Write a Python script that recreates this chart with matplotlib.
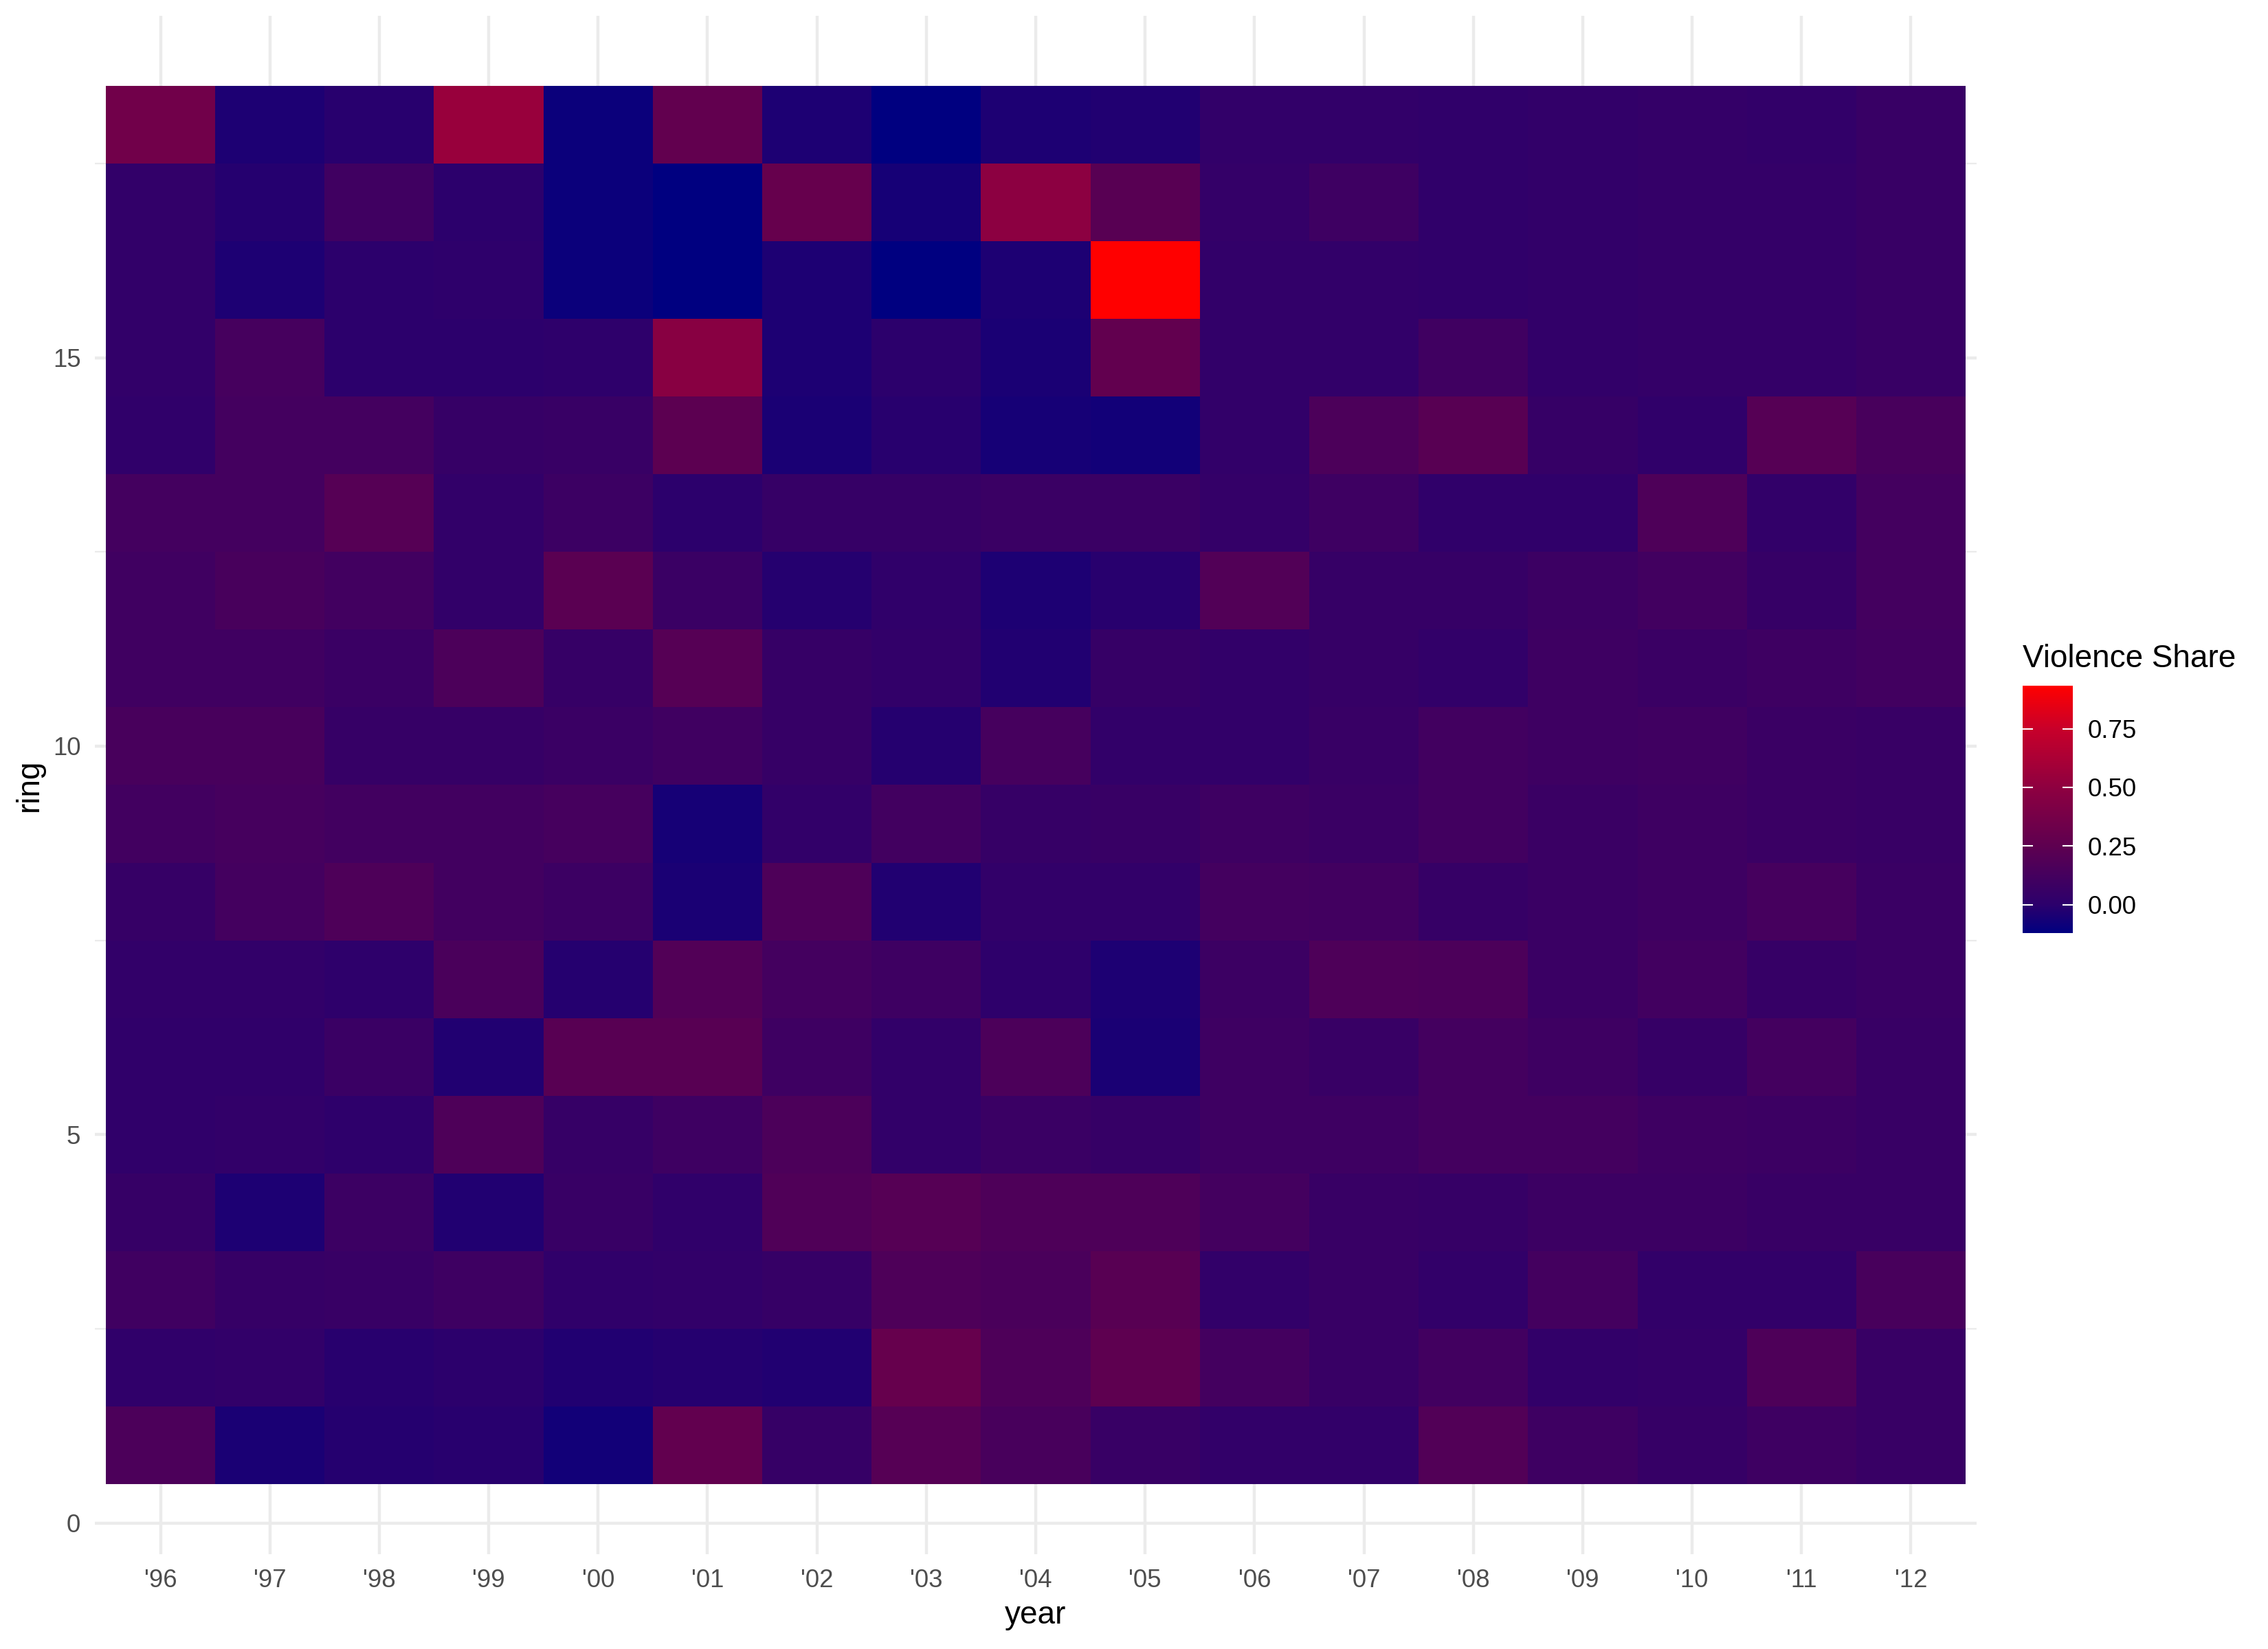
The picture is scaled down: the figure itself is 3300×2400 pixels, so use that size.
import numpy as np
import matplotlib
matplotlib.use("Agg")
import matplotlib.pyplot as plt
from matplotlib.colors import LinearSegmentedColormap, Normalize
from matplotlib.ticker import FixedLocator

plt.rcParams['font.family'] = ['Liberation Sans', 'DejaVu Sans']

# data
years = ["'96", "'97", "'98", "'99", "'00", "'01", "'02", "'03", "'04",
         "'05", "'06", "'07", "'08", "'09", "'10", "'11", "'12"]
rings = list(range(1, 19))

# violence share, one row per ring, listed from ring 18 down to ring 1
share_top_down = [
    [0.35, -0.04, -0.01, 0.54, -0.09, 0.27, -0.04, -0.121, -0.04, -0.03, 0.03, 0.03, 0.02, 0.03, 0.04, 0.03, 0.06],
    [0.03, -0.02, 0.10, 0.00, -0.09, -0.12, 0.29, -0.06, 0.49, 0.22, 0.04, 0.09, 0.02, 0.03, 0.04, 0.04, 0.06],
    [0.03, -0.04, 0.00, 0.01, -0.09, -0.12, -0.04, -0.12, -0.04, 0.933, 0.03, 0.03, 0.02, 0.03, 0.04, 0.04, 0.06],
    [0.03, 0.13, 0.00, 0.00, 0.01, 0.47, -0.04, 0.00, -0.05, 0.27, 0.03, 0.03, 0.10, 0.03, 0.04, 0.04, 0.06],
    [0.02, 0.12, 0.12, 0.05, 0.06, 0.24, -0.05, -0.01, -0.06, -0.07, 0.03, 0.16, 0.22, 0.05, 0.02, 0.21, 0.14],
    [0.12, 0.12, 0.21, 0.03, 0.08, 0.00, 0.05, 0.05, 0.07, 0.07, 0.04, 0.09, 0.02, 0.02, 0.17, 0.03, 0.12],
    [0.10, 0.14, 0.11, 0.03, 0.23, 0.07, -0.02, 0.02, -0.04, -0.01, 0.19, 0.05, 0.05, 0.08, 0.11, 0.05, 0.12],
    [0.10, 0.10, 0.07, 0.16, 0.05, 0.21, 0.05, 0.03, -0.03, 0.05, 0.03, 0.05, 0.03, 0.09, 0.07, 0.09, 0.11],
    [0.14, 0.14, 0.05, 0.05, 0.07, 0.10, 0.05, -0.02, 0.13, 0.03, 0.03, 0.06, 0.11, 0.09, 0.10, 0.07, 0.06],
    [0.11, 0.13, 0.11, 0.11, 0.13, -0.06, 0.03, 0.11, 0.05, 0.06, 0.09, 0.07, 0.11, 0.07, 0.09, 0.07, 0.06],
    [0.05, 0.12, 0.17, 0.11, 0.08, -0.05, 0.17, -0.03, 0.03, 0.03, 0.12, 0.11, 0.05, 0.07, 0.09, 0.13, 0.07],
    [0.03, 0.03, 0.01, 0.15, -0.02, 0.19, 0.12, 0.09, 0.01, -0.04, 0.08, 0.17, 0.16, 0.07, 0.11, 0.05, 0.07],
    [0.02, 0.02, 0.07, -0.03, 0.22, 0.22, 0.09, 0.03, 0.16, -0.05, 0.09, 0.06, 0.12, 0.09, 0.05, 0.12, 0.06],
    [0.02, 0.03, 0.01, 0.17, 0.05, 0.09, 0.16, 0.03, 0.07, 0.05, 0.09, 0.09, 0.12, 0.12, 0.09, 0.08, 0.06],
    [0.05, -0.04, 0.08, -0.03, 0.06, 0.02, 0.18, 0.21, 0.17, 0.17, 0.12, 0.06, 0.05, 0.08, 0.08, 0.06, 0.06],
    [0.10, 0.05, 0.06, 0.09, 0.02, 0.03, 0.05, 0.17, 0.15, 0.22, 0.03, 0.06, 0.03, 0.12, 0.03, 0.03, 0.14],
    [0.02, 0.03, -0.01, 0.00, -0.03, -0.02, -0.03, 0.29, 0.17, 0.25, 0.12, 0.06, 0.11, 0.03, 0.04, 0.17, 0.06],
    [0.16, -0.05, -0.02, -0.01, -0.07, 0.27, 0.05, 0.21, 0.14, 0.06, 0.03, 0.03, 0.19, 0.09, 0.05, 0.09, 0.06],
]
share = np.array(share_top_down[::-1])   # row 0 = ring 1

legend_breaks = [0.00, 0.25, 0.50, 0.75]

vmin, vmax = share.min(), share.max()

# navy -> red gradient, colours matched to the legend of the reference
def pos(v):
    return (v - vmin) / (vmax - vmin)

cmap = LinearSegmentedColormap.from_list('navy_red', [
    (0.0, '#000080'),
    (pos(0.00), '#2C006C'),
    (pos(0.25), '#5E0050'),
    (pos(0.50), '#8E0040'),
    (pos(0.75), '#C8002A'),
    (1.0, '#FF0000'),
], N=512)

fig = plt.figure(figsize=(11, 8), dpi=300)
ax = fig.add_axes([138 / 3300, 138 / 2400, (2876 - 138) / 3300, (2262 - 23) / 2400])

norm = Normalize(vmin=vmin, vmax=vmax)
xe = np.arange(len(years) + 1) + 0.5
ye = np.arange(len(rings) + 1) + 0.5
mesh = ax.pcolormesh(xe, ye, share, cmap=cmap, norm=norm, edgecolors='none',
                     antialiased=False, zorder=2)

ax.set_xlim(0.4, len(years) + 0.6)
ax.set_ylim(-0.4, 19.4)
ax.set_xticks(np.arange(1, len(years) + 1))
ax.set_xticklabels(years)
ax.set_yticks([0, 5, 10, 15])
ax.yaxis.set_minor_locator(FixedLocator([2.5, 7.5, 12.5, 17.5]))

for s in ax.spines.values():
    s.set_visible(False)
ax.set_axisbelow(True)
ax.grid(which='major', color='#EBEBEB', linewidth=1.07)
ax.grid(which='minor', axis='y', color='#EBEBEB', linewidth=0.53)
ax.tick_params(which='both', length=0, pad=4.95, labelsize=8.8, labelcolor='#4D4D4D')
ax.set_xlabel('year', fontsize=11, labelpad=2.75)
ax.set_ylabel('ring', fontsize=11, labelpad=2.75)

# colour bar legend
cax = fig.add_axes([2943 / 3300, (2400 - 1358) / 2400, 73 / 3300, 360 / 2400])
cb = fig.colorbar(mesh, cax=cax, ticks=legend_breaks)
cb.outline.set_visible(False)
cb.ax.set_yticklabels(['%.2f' % v for v in legend_breaks])
cb.ax.tick_params(direction='in', length=3.5, width=0.5, color='white',
                  left=True, right=True, labelsize=8.8, labelcolor='black', pad=5.3)
fig.text(2943 / 3300, 1 - 971 / 2400, 'Violence Share', fontsize=11, va='baseline', ha='left')

fig.savefig('out.png', dpi=300)
